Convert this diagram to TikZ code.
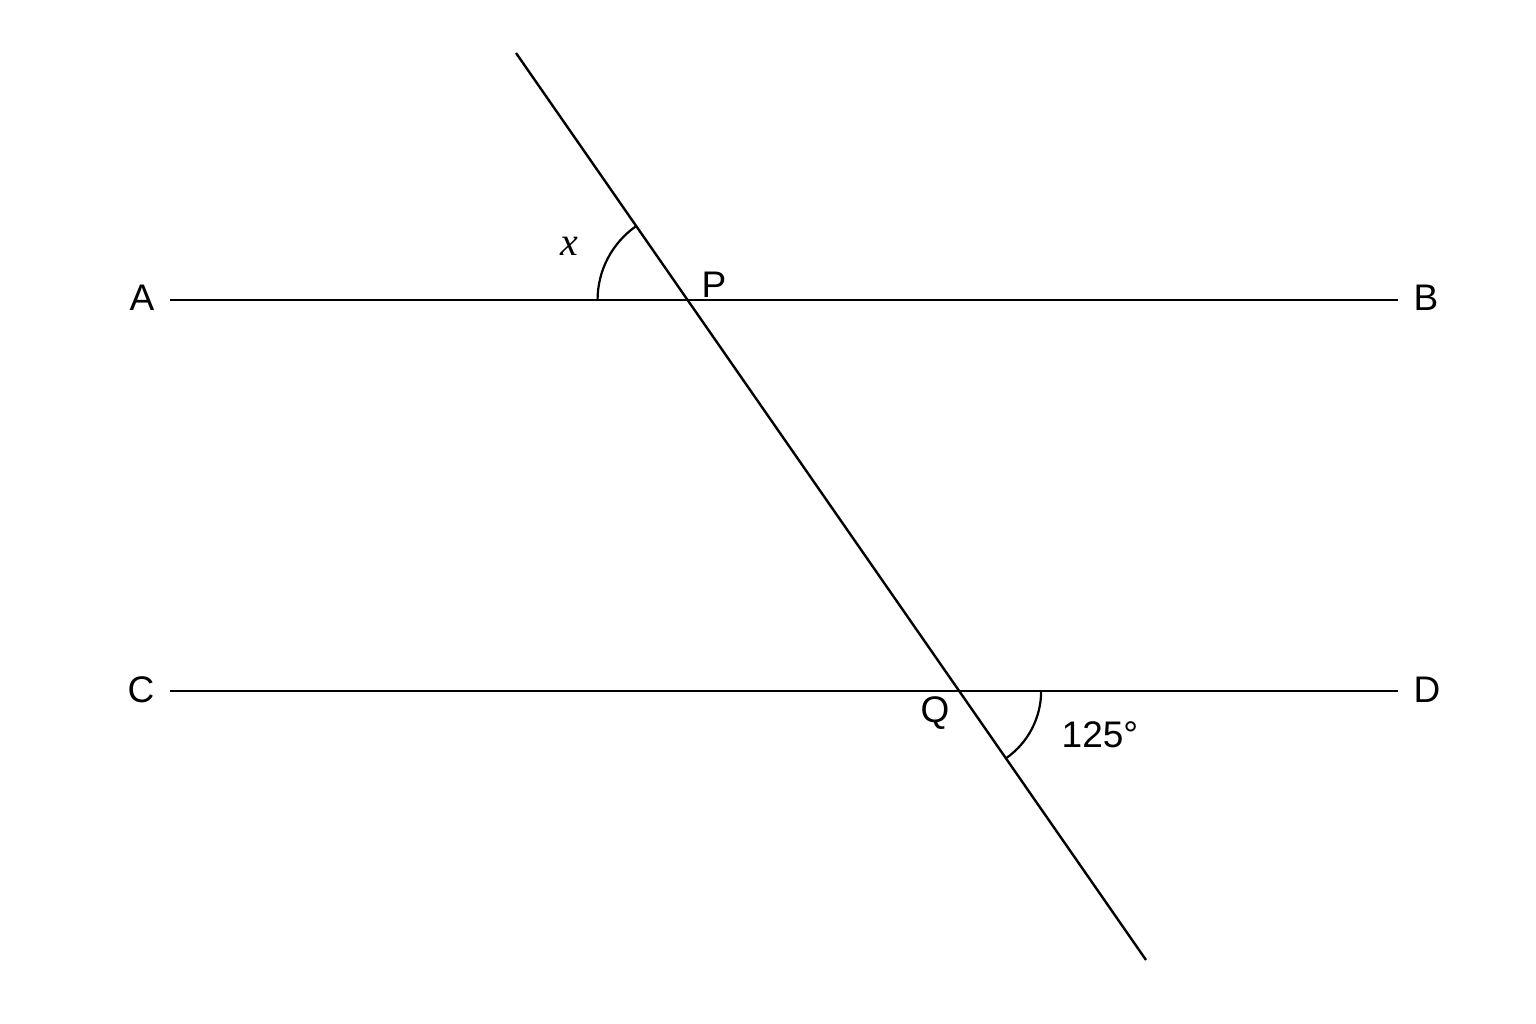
\documentclass[tikz,border=0pt]{standalone}
\usepackage{fontspec}
\setmainfont{Liberation Sans}
\newfontfamily\serifx{Liberation Serif}
\usetikzlibrary{calc,intersections}
\begin{document}
\begin{tikzpicture}[x=1pt,y=1pt,
  geo/.style={line width=2.4pt,black},
  anglearc/.style={line width=2.2pt,black},
  lbl/.style={inner sep=0pt,font=\fontsize{37}{42}\selectfont},
  mathlbl/.style={inner sep=0pt,font=\fontsize{40}{46}\selectfont\serifx\itshape}]
\useasboundingbox (0,0) rectangle (1536,1024);
% end points
\coordinate (Aend) at (170,724);
\coordinate (Bend) at (1398,724);
\coordinate (Cend) at (170,333);
\coordinate (Dend) at (1398,333);
\coordinate (T1) at (516,971);
\coordinate (T2) at (1146,64);
% lines
\draw[geo,name path=ab] (Aend) -- (Bend);
\draw[geo,name path=cd] (Cend) -- (Dend);
\draw[geo,name path=tr] (T1) -- (T2);
\path[name intersections={of=ab and tr,by=P}];
\path[name intersections={of=cd and tr,by=Q}];
% angle arcs
\draw[anglearc] ($(P)+(-90,0)$) arc[start angle=180,end angle=124.8,radius=90];
\draw[anglearc] ($(Q)+(82,0)$) arc[start angle=0,end angle=-55.2,radius=82];
% labels
\node[lbl] (la) at (142,726) {A};
\node[lbl] (lb) at (1426,726) {B};
\node[lbl] (lc) at (141,334) {C};
\node[lbl] (ld) at (1427,334) {D};
\node[lbl] (lp) at (714,739) {P};
\node[lbl] (lq) at (935,311) {Q};
\node[mathlbl] (lx) at (569,778) {x};
\node[lbl] (la125) at (1100,289) {125°};
\end{tikzpicture}
\end{document}
